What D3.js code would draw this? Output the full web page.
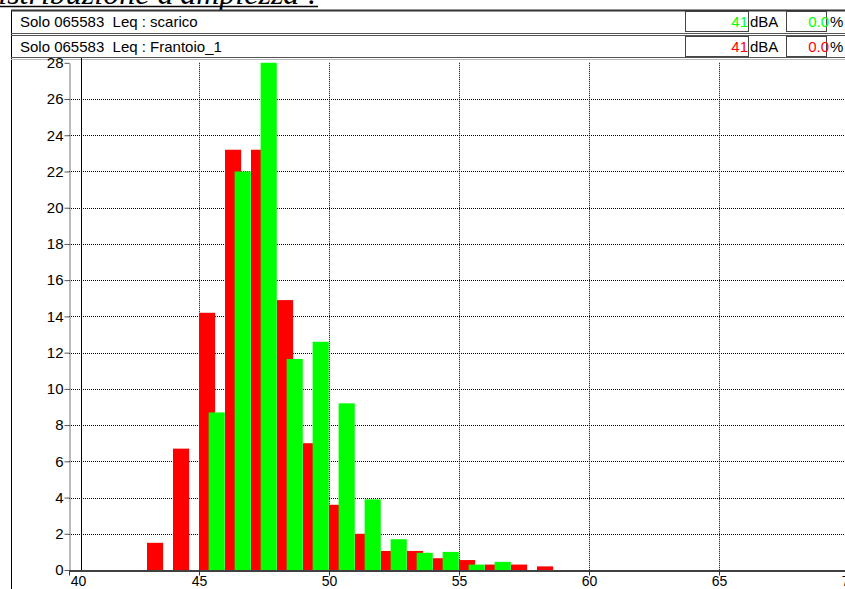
<!DOCTYPE html>
<html>
<head>
<meta charset="utf-8">
<script src="https://cdn.jsdelivr.net/npm/d3@7"></script>
<style>
  html, body { margin: 0; padding: 0; background: #fff; overflow: hidden; }
  svg { display: block; font-family: Arial, "Liberation Sans", sans-serif; }
  text { white-space: pre; }
</style>
</head>
<body>
<svg id="chart" width="845" height="589"></svg>
<script>
// ---- data ----
const title = "Distribuzione d'ampiezza :";
const seriesNames = ["Solo 065583  Leq : scarico", "Solo 065583  Leq : Frantoio_1"];
const seriesColors = ["#00ff00", "#ff0000"];
const seriesLeq = ["41", "41"];
const seriesPct = ["0.0", "0.0"];
const bins = [43, 44, 45, 46, 47, 48, 49, 50, 51, 52, 53, 54, 55, 56, 57, 58];
const redValues = [1.5, 6.7, 14.2, 23.2, 23.2, 14.9, 7.0, 3.6, 2.0, 1.05, 1.05, 0.65, 0.55, 0.3, 0.3, 0.2];
const greenValues = [0, 0, 8.7, 22.0, 28.0, 11.65, 12.6, 9.2, 3.9, 1.7, 0.95, 1.0, 0.3, 0.45, 0, 0];
const xTicks = [40, 45, 50, 55, 60, 65, 70];
const yTicks = [0, 2, 4, 6, 8, 10, 12, 14, 16, 18, 20, 22, 24, 26, 28];
const cursorValue = 40.46;

const svg = d3.select("#chart");
const W = 845, H = 589;

const x = d3.scaleLinear().domain([40, 70]).range([69, 849]);
const y = d3.scaleLinear().domain([0, 28]).range([570, 62.8]);

// ---- title (clipped at top, as in the original screenshot) ----
svg.append("text")
  .attr("x", 318).attr("y", 4)
  .attr("text-anchor", "end")
  .attr("font-family", "'Liberation Serif', 'DejaVu Serif', serif")
  .attr("font-style", "italic")
  .attr("font-size", 32)
  .attr("fill", "#000")
  .text(title);
svg.append("line")
  .attr("x1", 0).attr("x2", 318).attr("y1", 6.5).attr("y2", 6.5)
  .attr("stroke", "#000").attr("stroke-width", 1.5);

// ---- outer frame ----
svg.append("line").attr("x1", 11.5).attr("x2", 11.5).attr("y1", 10).attr("y2", H)
  .attr("stroke", "#000").attr("stroke-width", 1);

// ---- header rows ----
svg.append("line").attr("x1", 11).attr("x2", W).attr("y1", 10.5).attr("y2", 10.5)
  .attr("stroke", "#333").attr("stroke-width", 2);
svg.append("line").attr("x1", 11).attr("x2", W).attr("y1", 33.5).attr("y2", 33.5)
  .attr("stroke", "#555").attr("stroke-width", 1);
svg.append("line").attr("x1", 11).attr("x2", W).attr("y1", 35.5).attr("y2", 35.5)
  .attr("stroke", "#555").attr("stroke-width", 1);
svg.append("line").attr("x1", 11).attr("x2", W).attr("y1", 57.5).attr("y2", 57.5)
  .attr("stroke", "#555").attr("stroke-width", 1);
svg.append("line").attr("x1", 11).attr("x2", W).attr("y1", 59.5).attr("y2", 59.5)
  .attr("stroke", "#bbb").attr("stroke-width", 1);

const baselines = [27, 52];
seriesNames.forEach((name, i) => {
  const top = i === 0 ? 11.5 : 36.5;
  svg.append("text").attr("x", 20).attr("y", baselines[i])
    .attr("font-size", 15).attr("fill", "#000").text(name);
  svg.append("rect").attr("x", 685.5).attr("y", top).attr("width", 63).attr("height", 20)
    .attr("fill", "none").attr("stroke", "#444").attr("stroke-width", 1);
  svg.append("text").attr("x", 748).attr("y", baselines[i]).attr("text-anchor", "end")
    .attr("font-size", 15).attr("fill", seriesColors[i]).text(seriesLeq[i]);
  svg.append("text").attr("x", 750).attr("y", baselines[i])
    .attr("font-size", 15).attr("fill", "#000").text("dBA");
  svg.append("rect").attr("x", 786.5).attr("y", top).attr("width", 40).attr("height", 20)
    .attr("fill", "none").attr("stroke", "#444").attr("stroke-width", 1);
  svg.append("text").attr("x", 829).attr("y", baselines[i]).attr("text-anchor", "end")
    .attr("font-size", 15).attr("fill", seriesColors[i]).text(seriesPct[i]);
  svg.append("text").attr("x", 830).attr("y", baselines[i])
    .attr("font-size", 15).attr("fill", "#000").text("%");
});

// ---- grid ----
const grid = svg.append("g");
grid.selectAll("line.h").data(yTicks.filter(v => v > 0 && v < 28)).join("line")
  .attr("x1", 69).attr("x2", W)
  .attr("y1", d => Math.round(y(d)) + 0.5).attr("y2", d => Math.round(y(d)) + 0.5)
  .attr("stroke", "#000").attr("stroke-width", 1).attr("stroke-dasharray", "1,1");
grid.selectAll("line.v").data(xTicks.filter(v => v > 40 && v < 70)).join("line")
  .attr("x1", d => Math.round(x(d)) + 0.5).attr("x2", d => Math.round(x(d)) + 0.5)
  .attr("y1", y(28)).attr("y2", y(0))
  .attr("stroke", "#000").attr("stroke-width", 1).attr("stroke-dasharray", "1,1");

// ---- bars ----
const bars = svg.append("g");
bars.selectAll("rect.red").data(bins).join("rect")
  .attr("x", (d) => x(d))
  .attr("width", (d) => x(d + 0.62) - x(d))
  .attr("y", (d, i) => y(redValues[i]))
  .attr("height", (d, i) => y(0) - y(redValues[i]))
  .attr("fill", "#ff0000");
bars.selectAll("rect.green").data(bins).join("rect")
  .attr("x", (d) => x(d + 0.37))
  .attr("width", (d) => x(d + 0.99) - x(d + 0.37))
  .attr("y", (d, i) => y(greenValues[i]))
  .attr("height", (d, i) => y(0) - y(greenValues[i]))
  .attr("fill", "#00ff00");

// ---- cursor line ----
svg.append("line")
  .attr("x1", Math.round(x(cursorValue)) + 0.5).attr("x2", Math.round(x(cursorValue)) + 0.5)
  .attr("y1", 58).attr("y2", y(0))
  .attr("stroke", "#000").attr("stroke-width", 1);

// ---- axes ----
const yAxis = svg.append("g").attr("transform", "translate(69.5,0)")
  .call(d3.axisLeft(y).tickValues(yTicks).tickSize(5).tickPadding(1).tickSizeOuter(0));
yAxis.select(".domain").attr("stroke", "#777").attr("stroke-width", 1);
yAxis.selectAll(".tick line").attr("stroke", "#555");
yAxis.selectAll("text").attr("font-size", 15).attr("font-family", "Arial, 'Liberation Sans', sans-serif").attr("fill", "#000");

const xAxis = svg.append("g").attr("transform", "translate(0,570.5)")
  .call(d3.axisBottom(x).tickValues(xTicks).tickSize(5).tickPadding(1).tickSizeOuter(0));
xAxis.select(".domain").attr("stroke", "#000").attr("stroke-width", 1.5);
xAxis.selectAll(".tick line").attr("stroke", "#333");
xAxis.selectAll("text").attr("font-size", 14).attr("font-family", "Arial, 'Liberation Sans', sans-serif").attr("fill", "#000")
  .attr("dx", d => d === 40 ? 9 : 0);
</script>
</body>
</html>
